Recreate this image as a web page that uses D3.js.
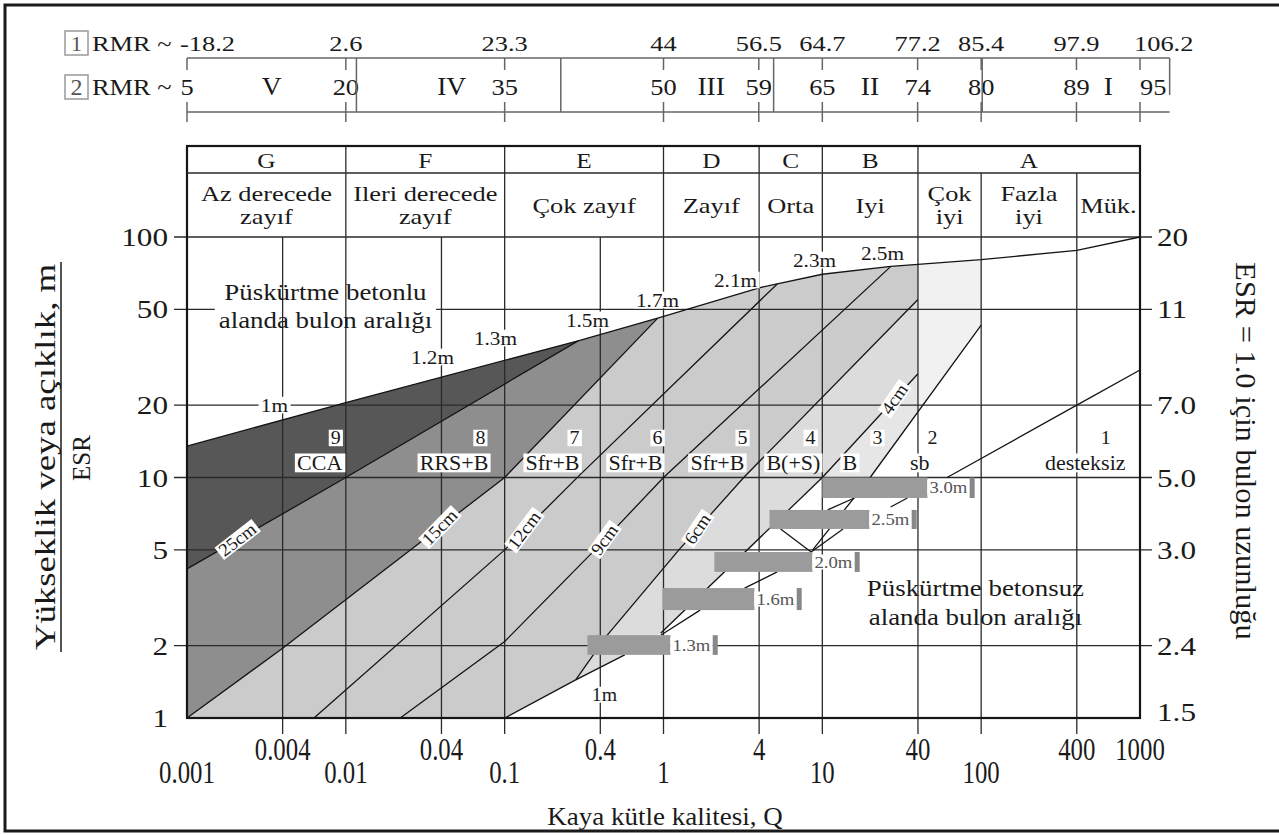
<!DOCTYPE html>
<html>
<head>
<meta charset="utf-8">
<script src="https://cdn.jsdelivr.net/npm/d3@7/dist/d3.min.js"></script>
<style>
  body { margin: 0; background: #fff; }
  text { font-family: "Liberation Serif", "Times New Roman", "DejaVu Serif", serif; }
</style>
</head>
<body>
<svg id="chart" width="1279" height="835"></svg>
<script>
// axis ticks
const qTicks = [0.001, 0.004, 0.01, 0.04, 0.1, 0.4, 1, 4, 10, 40, 100, 400, 1000];
const qTickLabels = ["0.001", "0.004", "0.01", "0.04", "0.1", "0.4", "1", "4", "10", "40", "100", "400", "1000"];
const spanTicks = [1, 2, 5, 10, 20, 50, 100];
const spanTickLabels = ["1", "2", "5", "10", "20", "50", "100"];
const boltLengthLabels = ["1.5", "2.4", "3.0", "5.0", "7.0", "11", "20"];

// RMR rows on top (row 2 values are used as the positions)
const rmr1Labels = ["-18.2", "2.6", "23.3", "44", "56.5", "64.7", "77.2", "85.4", "97.9", "106.2"];
const rmr2Values = [5, 20, 35, 50, 59, 65, 74, 80, 89, 95];
const rmrClassNames = ["V", "IV", "III", "II", "I"];
const rmrClassCentres = [13, 30, 54.5, 69.5, 92];
const rmrClassBounds = [21, 40.3, 60.4, 80.1];
const rmrScaleEnd = 97.8;

// rock mass classes
const rockClasses = ["G", "F", "E", "D", "C", "B", "A"];
const rockClassBounds = [0.001, 0.01, 0.1, 1, 4, 10, 40, 1000];
const rockDesc = [["Az derecede", "zayıf"], ["Ileri derecede", "zayıf"], ["Çok zayıf"], ["Zayıf"], ["Orta"], ["Iyi"], ["Çok", "iyi"], ["Fazla", "iyi"], ["Mük."]];
const rockDescBounds = [0.001, 0.01, 0.1, 1, 4, 10, 40, 100, 400, 1000];

// boundary lines as [Q, span/ESR]
const envelope = [[0.001, 13.5], [0.01, 20.5], [0.29, 37], [0.92, 46], [4, 61.5], [10, 70], [27, 75.5], [40, 77], [100, 80.5], [400, 88], [1000, 100]];
const line25 = [[0.001, 4.17], [0.01, 10], [0.29, 37]];
const line15 = [[0.001, 1], [0.004, 1.95], [0.1, 10], [0.92, 46]];
const line12 = [[0.0063, 1], [0.1, 5], [0.3, 10.3], [5.2, 63.8]];
const line9 = [[0.022, 1], [0.1, 2.08], [0.37, 5], [1, 10], [27, 75.5]];
const line6 = [[0.28, 1.44], [0.44, 2.2], [1.25, 5], [3.2, 10], [40, 55]];
const line4 = [[0.96, 2.25], [10, 10], [40, 27]];
const line3 = [[8.7, 5], [20, 10], [100, 43]];
const line2 = [[61, 10], [400, 20], [1000, 28]];
const lowerEdge = [[0.1, 1], [0.28, 1.44], [0.57, 1.83]];

// support categories
const supportNums = ["9", "8", "7", "6", "5", "4", "3", "2", "1"];
const supportCodes = ["CCA", "RRS+B", "Sfr+B", "Sfr+B", "Sfr+B", "B(+S)", "B", "sb", "desteksiz"];
const supportCodeQ = [0.0095, 0.079, 0.296, 0.985, 3.23, 9.72, 16.6, 47.3, 811];
const supportNumQ = [0.0093, 0.0756, 0.296, 0.985, 3.38, 9.06, 23.9, 53, 654];

// shotcrete thickness labels
const thickLabels = ["25cm", "15cm", "12cm", "9cm", "6cm", "4cm"];
const thickQ = [0.00208, 0.039, 0.133, 0.425, 1.64, 28.5];

// bolt spacing in shotcreted area
const spacingLabels = ["1m", "1.2m", "1.3m", "1.5m", "1.7m", "2.1m", "2.3m", "2.5m"];
const spacingQ = [0.00355, 0.0351, 0.0875, 0.332, 0.917, 2.84, 8.93, 23.9];
const spacingS = [20, 31.7, 38, 45.2, 54.7, 66.2, 80.2, 85.8];

// bolt spacing bars in unshotcreted area
const barLabels = ["1.3m", "1.6m", "2.0m", "2.5m", "3.0m"];
const barQ0 = [0.332, 0.986, 2.09, 4.65, 10];
const barQ1 = [1.107, 3.74, 8.67, 19.8, 45.9];
const barSTop = [2.21, 3.47, 4.9, 7.33, 10];
const barSBot = [1.83, 2.81, 4.05, 6.11, 8.22];
const barLinks = [
  [[0.96, 2.21], [1.7, 2.81]],
  [[3.24, 3.47], [5.2, 4.05]],
  [[8.5, 4.9], [13.5, 6.11]],
  [[8.5, 4.9], [5.46, 6.11]],
  [[26.9, 7.54], [34.3, 8.22]],
  [[15.9, 8.22], [10.8, 7.33]]
];

const svg = d3.select("#chart");
const x = d3.scaleLog().domain([0.001, 1000]).range([187, 1140]);
const y = d3.scaleLog().domain([1, 100]).range([718, 237]);
const tableTop = 146, descTop = 173;
const xr = r => x(Math.pow(10, (r - 50) / 15));
const path = d3.line().x(d => x(d[0])).y(d => y(d[1]));

// value of a polyline at q (straight in log-log)
function sAt(pts, q) {
  for (let i = 0; i < pts.length - 1; i++) {
    const [q0, s0] = pts[i], [q1, s1] = pts[i + 1];
    if (q >= q0 && q <= q1) {
      const t = Math.log(q / q0) / Math.log(q1 / q0);
      return Math.exp(Math.log(s0) + t * Math.log(s1 / s0));
    }
  }
  return pts[pts.length - 1][1];
}

// text helper, sx stretches it sideways like the scanned figure
function label(parent, px, py, txt, o) {
  o = o || {};
  const g = parent.append("g")
    .attr("transform", `translate(${px},${py}) rotate(${o.rot || 0}) scale(${o.sx || 1},1)`);
  const t = g.append("text")
    .attr("text-anchor", o.anchor || "middle")
    .attr("dominant-baseline", "central")
    .style("font-size", (o.size || 20) + "px")
    .style("fill", o.color || "#1a1a1a")
    .text(txt);
  if (o.bg) {
    const b = t.node().getBBox();
    g.insert("rect", "text")
      .attr("x", b.x - 2).attr("y", b.y + 2)
      .attr("width", b.width + 4).attr("height", b.height - 4)
      .attr("fill", "#fff");
  }
  return g;
}

const gFill = svg.append("g");
const gH = svg.append("g");
const gMask = svg.append("g");
const gV = svg.append("g");
const gLine = svg.append("g");
const gBar = svg.append("g");
const gText = svg.append("g");

// outer frame
svg.insert("rect", ":first-child")
  .attr("x", 5).attr("y", 5).attr("width", 1290).attr("height", 826)
  .attr("fill", "#fff").attr("stroke", "#1a1a1a").attr("stroke-width", 3);

// ---- shaded support regions
const envTo = q => envelope.filter(d => d[0] < q).reverse();
const l3At40 = sAt(line3, 40);
const envAt40 = sAt(envelope, 40);
const regions = [
  { c: "#f1f1f1", p: [[40, l3At40], [40, envAt40]].concat(envelope.filter(d => d[0] > 40 && d[0] <= 100)).concat([[100, sAt(line3, 100)]]) },
  { c: "#e6e6e6", p: [line4[1], line4[2], [40, l3At40], line3[1]] },
  { c: "#dcdcdc", p: line6.concat(line4.slice().reverse()).concat(lowerEdge.slice(1).reverse()) },
  { c: "#cbcbcb", p: [[0.001, 1]].concat(lowerEdge.slice(0, 2)).concat(line6.slice(1)).concat([[40, envAt40]]).concat(envTo(40)) },
  { c: "#8e8e8e", p: line15.concat(envTo(line15[line15.length - 1][0])) },
  { c: "#575757", p: line25.concat(envTo(line25[line25.length - 1][0])) }
];
gFill.selectAll("path").data(regions).enter().append("path")
  .attr("d", d => path(d.p) + "Z")
  .attr("fill", d => d.c);

// ---- horizontal grid
spanTicks.slice(1).forEach(s => {
  gH.append("line").attr("x1", 174).attr("x2", 1152).attr("y1", y(s)).attr("y2", y(s))
    .attr("stroke", "#2a2a2a").attr("stroke-width", 1.3);
});

// ---- vertical grid (class borders run through the table)
qTicks.slice(1, -1).forEach(q => {
  let top = y(100);
  if (rockClassBounds.includes(q)) top = tableTop;
  else if (rockDescBounds.includes(q)) top = descTop;
  gV.append("line").attr("x1", x(q)).attr("x2", x(q)).attr("y1", top).attr("y2", 734)
    .attr("stroke", "#2a2a2a").attr("stroke-width", 1.3);
});

// ---- boundary lines
[envelope, line25, line15, line12, line9, line6, line4, line3, line2, lowerEdge].concat(barLinks).forEach(l => {
  gLine.append("path").attr("d", path(l)).attr("fill", "none")
    .attr("stroke", "#151515").attr("stroke-width", 1.3);
});

// box and table lines
gLine.append("rect").attr("x", x(0.001)).attr("y", tableTop)
  .attr("width", x(1000) - x(0.001)).attr("height", y(1) - tableTop)
  .attr("fill", "none").attr("stroke", "#151515").attr("stroke-width", 2.2);
gLine.append("line").attr("x1", x(0.001)).attr("x2", x(1000)).attr("y1", descTop).attr("y2", descTop)
  .attr("stroke", "#2a2a2a").attr("stroke-width", 1.3);

// ---- bolt spacing bars
barLabels.forEach((t, i) => {
  const x0 = x(barQ0[i]), x1 = x(barQ1[i]), y0 = y(barSTop[i]), y1 = y(barSBot[i]);
  gBar.append("rect").attr("x", x0).attr("y", y0).attr("width", x1 - x0).attr("height", y1 - y0).attr("fill", "#9b9b9b");
  const lg = label(gBar, x1 + 2, (y0 + y1) / 2, t, { anchor: "start", size: 17, sx: 1.1, bg: true, color: "#555" });
  const bb = lg.node().getBoundingClientRect();
  gBar.append("rect").attr("x", bb.right).attr("y", y0).attr("width", 5).attr("height", y1 - y0).attr("fill", "#888");
});

// ---- table text
rockClasses.forEach((c, i) => {
  const cx = (x(rockClassBounds[i]) + x(rockClassBounds[i + 1])) / 2;
  label(gText, cx, (tableTop + descTop) / 2 + 1, c, { size: 22, sx: 1.15 });
});
rockDesc.forEach((lines, i) => {
  const cx = (x(rockDescBounds[i]) + x(rockDescBounds[i + 1])) / 2;
  const cy = (descTop + y(100)) / 2;
  lines.forEach((ln, j) => {
    const dy = lines.length === 1 ? 0 : (j === 0 ? -12 : 11);
    label(gText, cx, cy + dy, ln, { size: 22, sx: 1.2 });
  });
});

// ---- support category labels
supportCodes.forEach((c, i) => {
  label(gText, x(supportCodeQ[i]), y(11.5), c, { anchor: "end", size: 20, sx: 1.1, bg: true });
  label(gText, x(supportNumQ[i]), y(14.6), supportNums[i], { anchor: "end", size: 19, sx: 1.05, bg: true });
});

// ---- shotcrete thickness labels along their lines
const thickLines = [line25, line15, line12, line9, line6, line4];
thickLabels.forEach((t, i) => {
  const l = thickLines[i], q = thickQ[i];
  const qa = q / 1.3, qb = q * 1.3;
  const ang = Math.atan2(y(sAt(l, qb)) - y(sAt(l, qa)), x(qb) - x(qa)) * 180 / Math.PI - 8;
  label(gText, x(q), y(sAt(l, q)), t, { size: 18, sx: 1.05, rot: ang, bg: true });
});

// ---- bolt spacing labels of shotcreted area
spacingLabels.forEach((t, i) => {
  label(gText, x(spacingQ[i]), y(spacingS[i]), t, { size: 19, sx: 1.12, bg: true });
});
label(gText, x(0.425), y(1.25), "1m", { size: 18, sx: 1.1, bg: true });

// ---- area notes
const noteA1 = label(gText, x(0.00744), y(59.2), "Püskürtme betonlu", { size: 24, sx: 1.12 });
const noteA2 = label(gText, x(0.00744), y(45.3), "alanda bulon aralığı", { size: 24, sx: 1.12 });
const ra = noteA1.node().getBoundingClientRect(), rb = noteA2.node().getBoundingClientRect();
gMask.append("rect").attr("x", Math.min(ra.left, rb.left) - 4).attr("y", y(50) - 3)
  .attr("width", Math.max(ra.right, rb.right) - Math.min(ra.left, rb.left) + 8).attr("height", 6).attr("fill", "#fff");
label(gText, x(92), y(3.47), "Püskürtme betonsuz", { size: 24, sx: 1.12 });
label(gText, x(92), y(2.63), "alanda bulon aralığı", { size: 24, sx: 1.12 });

// ---- left axis
spanTicks.forEach((s, i) => {
  label(gText, 168, y(s), spanTickLabels[i], { anchor: "end", size: 26, sx: 1.2 });
});
// ---- right axis (bolt length for ESR = 1)
spanTicks.forEach((s, i) => {
  label(gText, 1157, Math.min(y(s), y(1) - 6), boltLengthLabels[i], { anchor: "start", size: 26, sx: 1.2 });
});
// ---- bottom axis, staggered in two rows
qTicks.forEach((q, i) => {
  const upper = i % 2 === 1 || i === qTicks.length - 1;
  label(gText, x(q), upper ? 750 : 773, qTickLabels[i], { size: 31, sx: 0.8 });
});

// axis titles
label(gText, 665, 817, "Kaya kütle kalitesi, Q", { size: 25, sx: 1.08 });
label(gText, 45, 457, "Yükseklik veya açıklık, m", { size: 29, sx: 1.27, rot: -90 });
gText.append("line").attr("x1", 61).attr("x2", 61).attr("y1", 262).attr("y2", 652)
  .attr("stroke", "#1a1a1a").attr("stroke-width", 1.5);
label(gText, 81, 458, "ESR", { size: 25, sx: 1.0, rot: -90 });
label(gText, 1246, 451, "ESR = 1.0 için bulon uzunluğu", { size: 29, sx: 1.05, rot: 90 });

// ---- RMR correlation rows
const rmrTop = 58, rmrBottom = 112;
const gR = svg.append("g").attr("stroke", "#666").attr("stroke-width", 1.5);
gR.append("line").attr("x1", xr(5)).attr("x2", xr(rmrScaleEnd)).attr("y1", rmrTop).attr("y2", rmrTop);
gR.append("line").attr("x1", xr(5)).attr("x2", xr(rmrScaleEnd)).attr("y1", rmrBottom).attr("y2", rmrBottom);
gR.append("line").attr("x1", xr(rmrScaleEnd)).attr("x2", xr(rmrScaleEnd)).attr("y1", rmrTop).attr("y2", 95);
rmrClassBounds.forEach(r => {
  gR.append("line").attr("x1", xr(r)).attr("x2", xr(r)).attr("y1", rmrTop).attr("y2", rmrBottom);
});
rmr2Values.forEach(r => {
  gR.append("line").attr("x1", xr(r)).attr("x2", xr(r)).attr("y1", rmrTop).attr("y2", rmrTop + 12);
  gR.append("line").attr("x1", xr(r)).attr("x2", xr(r)).attr("y1", rmrBottom - 10).attr("y2", rmrBottom + 10);
});
rmr1Labels.forEach((t, i) => {
  const px = xr(rmr2Values[i]);
  if (i === 0) label(gText, px - 7, 43, t, { anchor: "start", size: 22, sx: 1.2 });
  else if (i === rmr1Labels.length - 1) label(gText, px - 6, 43, t, { anchor: "start", size: 22, sx: 1.2 });
  else label(gText, px, 43, t, { size: 22, sx: 1.2 });
});
rmr2Values.forEach((r, i) => {
  const px = xr(r);
  if (i === rmr2Values.length - 1) label(gText, px, 87, String(r), { anchor: "start", size: 24, sx: 1.1 });
  else label(gText, px, 87, String(r), { size: 24, sx: 1.1 });
});
rmrClassNames.forEach((c, i) => {
  label(gText, xr(rmrClassCentres[i]), 87, c, { size: 25, sx: 1.1 });
});
// row captions with boxed numbers
[["1", 43, 22, 1.2], ["2", 87, 24, 1.1]].forEach(([n, cy, fs, sx]) => {
  svg.append("rect").attr("x", 65).attr("y", cy - 12).attr("width", 23).attr("height", 24)
    .attr("fill", "none").attr("stroke", "#999").attr("stroke-width", 1.5);
  label(gText, 76.5, cy, n, { size: fs, color: "#555" });
  label(gText, 92, cy, "RMR ~", { anchor: "start", size: fs, sx: sx });
});
</script>
</body>
</html>
